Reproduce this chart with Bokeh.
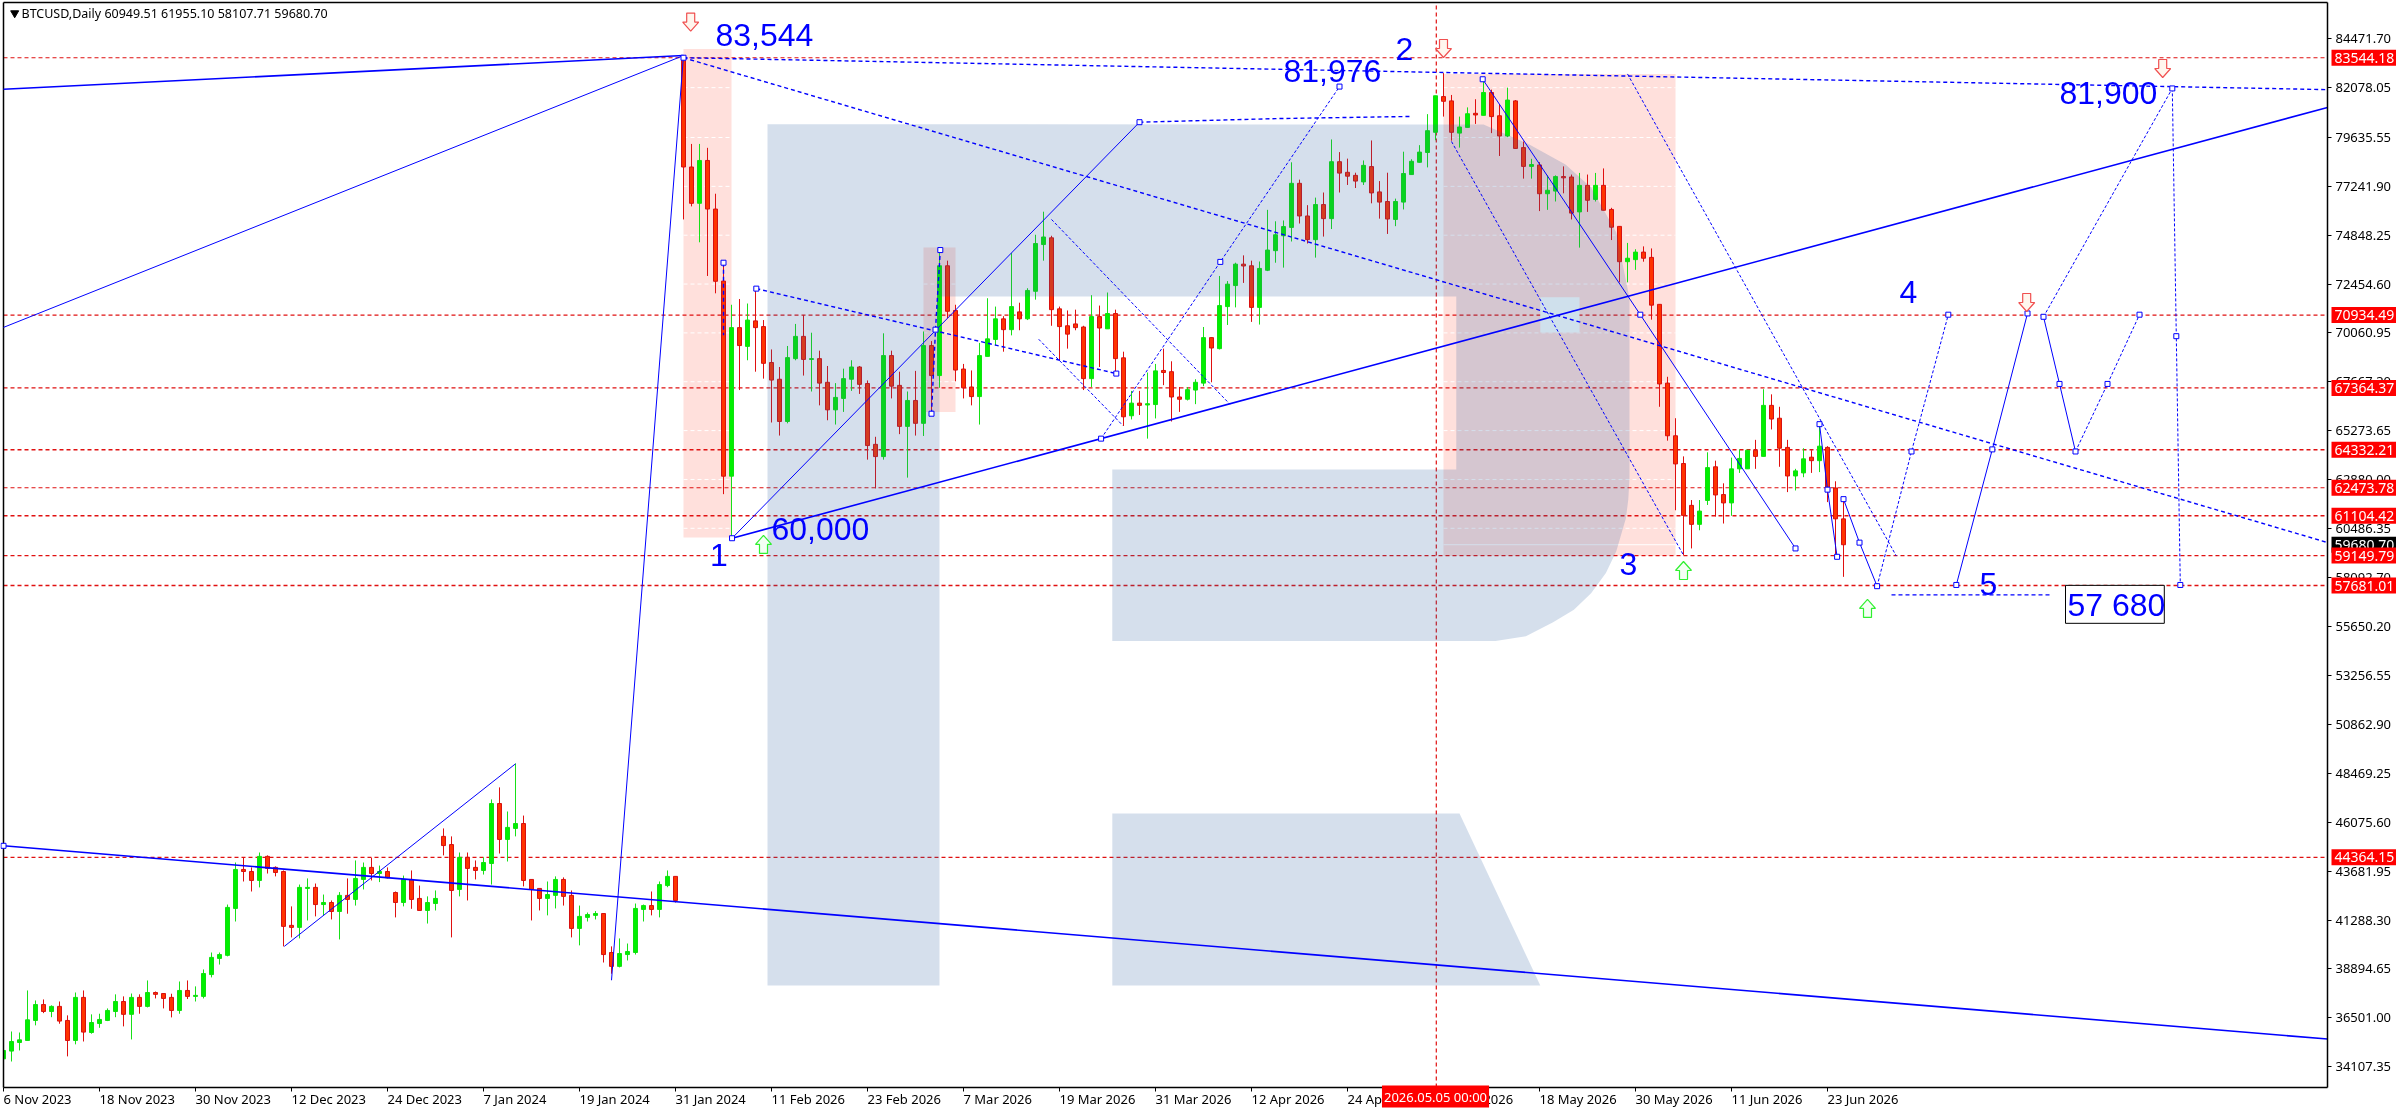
from bokeh.plotting import figure
from bokeh.models import Range1d, FixedTicker, NumeralTickFormatter, Label, LinearAxis
from bokeh.core.properties import value
from bokeh.embed import file_html
from bokeh.resources import INLINE

open_ = [
34490,34870,35290,35390,36370,37150,36810,37060,36370,35390,
37500,35780,36220,36370,36810,37300,36670,37500,37060,37740,
37690,37500,36860,37840,37550,37550,38620,39410,39560,41860,
43770,43670,43230,44410,43870,43670,41030,40930,42840,42890,
42050,42150,41710,42500,42300,43280,43870,43570,43670,42640,
42150,43280,42350,41760,42100,45390,44990,42790,44360,43870,
43720,44060,47000,45240,45780,46020,43280,42840,42350,42500,
43280,42500,40880,41420,41520,41610,39700,39020,39600,39700,
41810,42000,41810,42980,43430,83540,78190,76410,78510,76130,
72600,63040,70320,69400,70650,70370,68610,67790,65720,68800,
69890,68760,68800,67640,66290,66850,67790,68390,67580,64600,
64000,68950,67490,65480,66750,65630,69440,67970,73350,71160,
68290,67410,66940,68910,69740,70750,70220,71090,70750,72100,
74390,74720,71240,70410,70500,70350,67820,70860,70260,71010,
68840,66000,66620,66530,66550,68220,68160,66920,66810,67260,
67600,69830,69290,71350,72380,73430,73350,71310,73130,74090,
74820,75230,77390,75790,74630,76350,75660,78450,77930,77780,
77460,78210,76970,76500,75620,76470,77820,78420,78900,79890,
81640,81430,79850,80130,80820,80720,81840,80700,79710,81430,
79140,78220,78290,76880,77010,77720,77700,75990,77290,76600,
77290,76110,75280,73550,73650,74020,73760,71460,67600,65020,
63660,61610,60680,61850,63500,62140,61730,63400,63400,64310,
64010,66510,65880,64450,63050,63200,63970,63800,64450,62460,
60949.51]
high = [
35230,35830,35780,37840,37350,37400,37110,37300,36620,37740,
37840,36670,36700,36960,37650,37550,37690,37650,38330,37790,
37690,37680,38280,38330,38040,38870,39700,39700,42050,44110,
44340,43870,44600,44460,43920,43720,41960,43030,43330,43080,
42540,42250,42660,43330,44210,44110,44340,43960,43870,42690,
43470,43720,42980,42450,42740,45780,45390,44600,44600,44210,
44360,47200,47790,46610,48960,46410,43280,42840,43180,43430,
43380,42740,42000,41660,41730,41610,40000,40390,40140,42100,
42050,42690,43180,43720,43430,83544.18,79320,79320,79130,76880,
73600,71440,71720,71500,72250,70690,69250,68390,69420,70500,
70940,70070,69190,68440,67600,68310,68720,68440,67730,64970,
70040,69190,68160,67190,68200,70130,69660,74160,73600,71440,
68540,68220,69570,71760,71350,70880,73970,71540,72250,74870,
76000,74820,71350,71160,71200,70410,71910,71400,72040,71200,
69140,67220,67220,68120,68540,69290,68670,67410,67410,67790,
70350,69850,72850,72600,73500,73860,73600,73560,76090,75530,
75570,78420,77570,76320,76690,76940,79540,78920,78600,77910,
78510,79490,77500,77910,76640,78940,78570,79260,80780,81680,
82790,81720,80660,81110,81510,82400,81980,81270,82080,81470,
79440,78590,78430,77780,77780,78220,77820,77900,77820,77900,
78120,76190,75280,74470,74160,74300,74200,71460,67910,65880,
64010,61870,61870,64210,63800,62690,63950,64350,64310,64820,
67300,67050,66440,64820,63400,64410,64310,65630,64510,62790,
61955.10]
low = [
34360,34360,34900,35390,36130,36730,36530,36210,34610,35200,
35340,35720,36010,36340,36530,36080,35440,36700,37010,37450,
36960,36520,36700,37420,37300,37450,38480,39110,39510,41220,
43180,42690,42890,43570,43430,40000,40440,40390,41270,41470,
41520,41320,40340,41600,42000,42790,43230,43150,43330,41420,
41960,41840,41760,41120,41760,44460,40440,42450,42250,43280,
43520,43030,44550,44160,45390,42940,41270,41760,41520,41860,
42000,40440,40050,41220,41320,39210,38660,38970,39310,39600,
41220,41520,41420,42900,42150,75620,76260,74500,72850,72000,
62160,60000,67260,68720,68160,67820,65670,65030,65630,68720,
67970,67190,66510,65780,65570,66190,67220,67070,63850,62440,
63850,66850,65100,62970,65030,65010,66100,67370,70790,67690,
66850,66510,65570,68910,69440,69140,69940,70190,70690,71690,
73600,70410,68720,69290,70190,67260,67410,68390,70260,68160,
65500,65820,66040,64880,65870,67500,65720,66190,66750,66570,
67450,67640,69250,70450,71310,72510,70600,70470,73090,73500,
73260,74540,75420,74440,73750,74780,75150,76940,77310,77160,
77310,76410,75660,74910,75290,76110,77800,78400,78170,79500,
80660,79480,79140,80130,80300,80720,79850,78730,79650,79080,
77620,77620,76030,76090,76500,76900,75620,74240,75990,76500,
76070,74610,72540,72540,73150,73550,70710,66440,64780,61370,
59170,59500,60390,61630,61060,60720,61100,63200,63400,63400,
64010,65330,63500,62260,62340,62990,63200,63240,61770,59130,
58107.71]
close = [
34900,35340,35420,36400,37150,36810,37060,36340,35390,37500,
35800,36270,36420,36860,37300,36670,37500,37060,37740,37650,
37450,36860,37840,37550,37600,38670,39460,39600,41910,43770,
43670,43230,44410,43820,43620,40980,40930,42890,42890,42050,
42150,41710,42500,42300,43330,43870,43570,43670,43360,42150,
43280,42300,41760,42150,42350,44940,42740,44360,43820,43720,
44110,47000,45240,45830,46020,43230,42790,42350,42540,43280,
42450,40880,41470,41560,41610,39600,39020,39650,39750,41860,
42000,41810,43030,43430,42250,78190,76410,78510,76130,72590,
63040,70320,69440,70690,70320,68570,67750,65720,68850,69890,
68760,68800,67600,66290,66900,67820,68390,67540,64540,64000,
68950,67450,65480,66750,65630,69440,67970,73350,71120,68240,
67370,66940,68950,69770,70750,70220,71350,70750,72140,74440,
74760,71200,70370,70000,70320,67820,70860,70300,71010,68800,
65950,66620,66510,66590,68200,68120,66920,66810,67280,67640,
69830,69320,71400,72450,73430,73340,71310,73220,74120,74870,
75270,77390,75790,74630,76350,75660,78450,77890,77740,77500,
78270,76920,76470,75640,76500,77870,78470,78920,79970,81680,
81410,79890,80150,80800,80740,81840,80660,79710,81470,79100,
78220,78310,76880,77050,77720,77660,75930,77290,76560,77290,
76070,75240,73550,73720,74020,73720,71420,67560,65020,63640,
61120,60680,61330,63460,62120,61730,63400,63910,64310,64010,
66510,65840,64410,63050,63300,63890,63800,64510,62380,60950,
59680.70]

date_labels = ["6 Nov 2023","18 Nov 2023","30 Nov 2023","12 Dec 2023","24 Dec 2023","7 Jan 2024",
               "19 Jan 2024","31 Jan 2024","11 Feb 2026","23 Feb 2026","7 Mar 2026","19 Mar 2026",
               "31 Mar 2026","12 Apr 2026","24 Apr 2026","6 May 2026","18 May 2026","30 May 2026",
               "11 Jun 2026","23 Jun 2026"]
price_ticks = [84471.70,82078.05,79635.55,77241.90,74848.25,72454.60,70060.95,67667.30,65273.65,62880.00,
               60486.35,58092.70,55650.20,53256.55,50862.90,48469.25,46075.60,43681.95,41288.30,38894.65,
               36501.00,34107.35]
levels = [83544.18,70934.49,67364.37,64332.21,62473.78,61104.42,59149.79,57681.01,44364.15]
thick_levels = [64332.21,61104.42,57681.01]
last_price = 59680.70

# wave / trend overlays: (bar numbers, prices)
solid_thick = [
    ([0,85],[82000,83650]),
    ([0,290.5],[44928,35460]),
    ([91.07,290.5],[60000,81108]),
]
solid_thin = [
    ([0,85],[70330,83650]),
    ([76,85],[38340,83650]),
    ([91.07,142],[60000,80385]),
    ([35.1,64],[40000,48945]),
    ([184.9,204.6,224],[82490,70953,59500]),
    ([227,228,229.2],[65590,62380,59090]),
    ([230,232,234.2],[61915,59784,57650]),
    ([244.1,248.6,253],[57710,64352,71014]),
    ([255,257,259],[70850,67560,64250]),
]
dash_thick = [
    ([85,290.4],[83544,59800]),
    ([85,290.4],[83544,81981]),
    ([94.1,139.1],[72230,68067]),
    ([142,159,175.9],[80385,80560,80667]),
    ([90,90],[73500,69940]),
    ([116,116.5,117.1],[66100,70220,74120]),
    ([236,256],[57224,57224]),
]
dash_thin = [
    ([131,153.3],[75620,66567]),
    ([129.4,139.9],[69750,65530]),
    ([137.2,152.1,167],[64880,73540,82130]),
    ([181,210],[79440,59170]),
    ([203,236.6],[82750,59130]),
    ([234.2,238.5,243.1],[57650,64250,70953]),
    ([259,263,267],[64250,67560,70953]),
    ([255,271.1],[70850,82040]),
    ([271.1,271.6,272.1],[82040,69900,57710]),
]
vertex_x = [85,91.07,142,184.9,204.6,224,227,228,229.2,230,232,234.2,244.1,248.6,253,255,257,259,
            90,94.1,139.1,116,117.1,116.5,137.2,152.1,167,263,267,243.1,238.5,271.1,271.6,272.1,0]
vertex_y = [83544,60000,80385,82490,70953,59500,65590,62380,59090,61915,59784,57650,57710,64352,71014,
            70850,67560,64250,73500,72230,68067,66100,74120,70220,64880,73540,82130,67560,70953,70953,64250,
            82040,69900,57710,44928]

pink_boxes = [(85,91,60040,83970),(115,119,66190,74250),(180,209,59130,82750)]
logo_main_x = [95.5,185,190.5,195.25,198.45,201.6,203.25,203.25,203.1,202.8,201.6,200.3,198.45,196.3,193.7,190.3,186.5,
               138.6,138.6,181.6,181.6,117,117,95.5]
logo_main_y = [80290,80270,79340,78310,77185,74980,71755,62985,61900,60980,59360,58300,57300,56500,55880,55200,54960,
               54960,63370,63370,71840,71840,38080,38080]
logo_leg_x = [138.6,182,192.1,138.6]
logo_leg_y = [46510,46510,38080,38080]

down_arrows = [(85.9,84849),(180,83556),(269.9,82575),(252.9,71110)]
up_arrows = [(95,60135),(210,58860),(233,57000)]

big_texts = [("83,544",89,84682),("81,976",160,82918),("2",174,83948),("60,000",96,60428),("1",88.3,59198),
             ("81,900",257,81793),("4",237,72088),("3",202,58758),("5",247,57738),("57 680",258,56748)]

BLUE = "#0000FF"
RED_LINE = "#E01010"
BAR_W = 8.0     # px per bar
PX_P = 49.0     # price per px
X_MAX, Y_MIN, Y_MAX = 290.5, 33085, 86250
def canvas_y(price):
    return 38.3 + (84471.7 - price) / PX_P

p = figure(width=2396, height=1110, output_backend="svg", toolbar_location=None,
           x_range=Range1d(-0.375, 299.125), y_range=Range1d(31958.4, 86348.4),
           x_axis_location=None, y_axis_location=None,
           min_border=0, min_border_left=0, min_border_right=0, min_border_top=0, min_border_bottom=0,
           styles={"position": "fixed", "left": "0px", "top": "0px"},
           background_fill_color="white", border_fill_color="white", outline_line_color=None)
p.grid.visible = False

FONT = "Noto Sans"
xa = LinearAxis(fixed_location=Y_MIN, bounds=(0, X_MAX))
xa.ticker = FixedTicker(ticks=[12*i for i in range(len(date_labels))])
xa.major_label_overrides = {12*i: " " for i in range(len(date_labels))}
xa.major_label_standoff = 0
ya = LinearAxis(fixed_location=X_MAX, bounds=(Y_MIN, Y_MAX))
ya.ticker = FixedTicker(ticks=price_ticks)
ya.formatter = NumeralTickFormatter(format="0.00")
ya.major_label_standoff = 4
for a in (xa, ya):
    a.major_label_text_font = FONT
    a.major_label_text_color = "black"
    a.axis_line_color = "black"
    a.axis_line_width = 1.5
    a.major_tick_line_color = "black"
    a.major_tick_out = 4
    a.major_tick_in = 0
    a.minor_tick_line_color = None
ya.major_label_text_font_size = "13px"
xa.major_label_text_font_size = "1px"

# pink zones with white grid dashes
for x0, x1, y0, y1 in pink_boxes:
    p.quad(left=x0, right=x1, bottom=y0, top=y1, fill_color="#FFE0DC", line_color=None)
    ys = [t for t in price_ticks if y0 < t < y1]
    p.segment(x0=[x0]*len(ys), x1=[x1]*len(ys), y0=ys, y1=ys, line_color="white", line_width=1, line_dash="4 3")
p.line([180, 209], [last_price, last_price], line_color="white", line_width=1)

# price level lines
for lv in levels:
    p.line([0, X_MAX], [lv, lv], line_color=RED_LINE, line_dash="4 3", line_width=1.6 if lv in thick_levels else 1.2)
p.line([179.1, 179.1], [Y_MIN, Y_MAX], line_color=RED_LINE, line_dash="4 3", line_width=1.2)

# candles
idx = list(range(len(close)))
up = [i for i in idx if close[i] >= open_[i]]
dn = [i for i in idx if close[i] < open_[i]]
for ids, wick, body, edge in ((up, "#18E018", "#00F000", "#10E010"), (dn, "#E01010", "#FF3300", "#D81010")):
    p.segment(x0=ids, x1=ids, y0=[high[i] for i in ids], y1=[low[i] for i in ids], line_color=wick, line_width=1)
    p.vbar(x=ids, width=0.5, bottom=[min(open_[i], close[i]) for i in ids], top=[max(open_[i], close[i]) for i in ids],
           fill_color=body, line_color=edge, line_width=1)
# chart border on the left and top, covering what lies left of the first bar
p.quad(left=-0.375, right=0, bottom=31958.4, top=86348.4, fill_color="white", line_color=None)
p.line([0, 0], [Y_MIN, Y_MAX], line_color="black", line_width=1.5)
p.line([0, X_MAX], [Y_MAX, Y_MAX], line_color="black", line_width=1.5)

# watermark
p.patch(logo_main_x, logo_main_y, fill_color="#2F5F9F", fill_alpha=0.2, line_color=None)
p.patch(logo_leg_x, logo_leg_y, fill_color="#2F5F9F", fill_alpha=0.2, line_color=None)
p.quad(left=192.1, right=197, bottom=70080, top=71810, fill_color="#CFE0EC", line_color=None)

# trend / wave lines
for xs, ys in solid_thick:
    p.line(xs, ys, line_color=BLUE, line_width=1.6)
for xs, ys in solid_thin:
    p.line(xs, ys, line_color=BLUE, line_width=1)
for xs, ys in dash_thick:
    p.line(xs, ys, line_color=BLUE, line_width=1.4, line_dash="4 3")
for xs, ys in dash_thin:
    p.line(xs, ys, line_color=BLUE, line_width=1, line_dash="3 2")
p.scatter(vertex_x, vertex_y, marker="square", size=5, fill_color="white", line_color=BLUE, line_width=1)

# arrows
def arrow(bar, tip, sign):
    hw, sw, head, total = 8/BAR_W, 4/BAR_W, 9*PX_P, 18*PX_P
    xs = [bar, bar-hw, bar-sw, bar-sw, bar+sw, bar+sw, bar+hw]
    ys = [tip, tip+sign*head, tip+sign*head, tip+sign*total, tip+sign*total, tip+sign*head, tip+sign*head]
    return xs, ys
for b, t in down_arrows:
    xs, ys = arrow(b, t, 1)
    p.patch(xs, ys, fill_color="#FFF6EE", line_color="#F05050", line_width=1.2)
for b, t in up_arrows:
    xs, ys = arrow(b, t, -1)
    p.patch(xs, ys, fill_color="#F4FFF4", line_color="#30F030", line_width=1.2)

# 57 680 box
p.quad(left=257.75, right=270.1, bottom=55830, top=57690, fill_color="white", line_color="black", line_width=1)

# texts
for s, b, pr in big_texts:
    p.text([b], [pr], text=[s], text_font=value("Liberation Sans"), text_font_size="32px", text_color=BLUE,
           text_baseline="alphabetic", text_align="left")

# axes sit inside the full-page frame so that the price flags can lie over them
p.add_layout(xa, "below")
p.add_layout(ya, "right")

# chart title
p.scatter([1.4], [85730], marker="inverted_triangle", size=8, fill_color="black", line_color="black")
p.add_layout(Label(x=21, y=13, x_units="canvas", y_units="canvas",
                   text="BTCUSD,Daily  60949.51 61955.10 58107.71 59680.70", text_font=FONT,
                   text_font_size="12.5px", text_color="black", text_baseline="middle"))

# date labels: left aligned on their ticks, below the axis
for i, s in enumerate(date_labels):
    p.add_layout(Label(x=3+12*i*BAR_W, y=1098, x_units="canvas", y_units="canvas", text=s, text_font=FONT,
                       text_font_size="13px", text_color="black", text_baseline="middle"))

# right side price flags
flags = [(lv, "#FF0000") for lv in levels if lv > last_price] + [(last_price, "black")] + \
        [(lv, "#FF0000") for lv in levels if lv < last_price]
for lv, c in flags:
    p.add_layout(Label(x=2331, y=canvas_y(lv), x_units="canvas", y_units="canvas", text="%.2f" % lv, text_font=FONT,
                       text_font_size="14px", text_color="white", text_baseline="middle",
                       background_fill_color=c, padding=3))
p.add_layout(Label(x=1435, y=1096, x_units="canvas", y_units="canvas", text="2026.05.05 00:00", text_font=FONT,
                   text_font_size="13px", text_color="white", text_baseline="middle", text_align="center",
                   background_fill_color="#FF0000", padding=2))

open("out.html", "w").write(file_html(p, INLINE))
